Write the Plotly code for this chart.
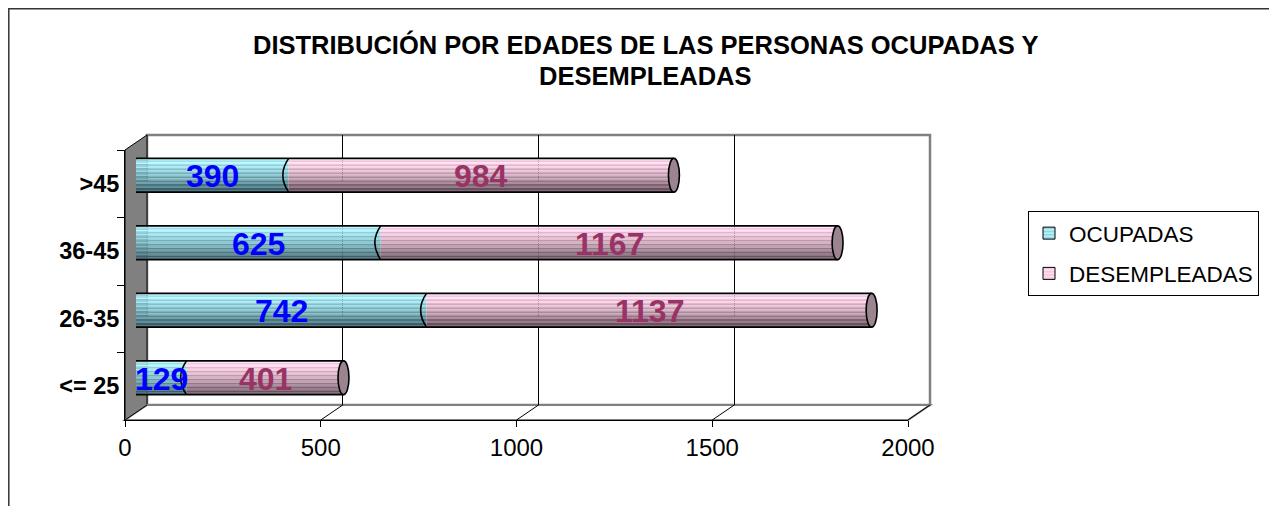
import plotly.graph_objects as go

# ---------------- data ----------------
categories = ["<= 25", "26-35", "36-45", ">45"]
ocupadas = [129, 742, 625, 390]
desempleadas = [401, 1137, 1167, 984]
series_names = ["OCUPADAS", "DESEMPLEADAS"]
x_ticks = [0, 500, 1000, 1500, 2000]
title_lines = ["DISTRIBUCIÓN POR EDADES DE LAS PERSONAS OCUPADAS Y", "DESEMPLEADAS"]

# ---------------- geometry ----------------
W, H = 1277, 506
XMAX = 2000
OFF = 8  # page body margin


def px(x):
    return (x - OFF) / W


def py(y):
    return (H - (y - OFF)) / H


FX0, FX1 = 125, 908          # front axis x (window pixels)
FY0, FY1 = 150, 420          # front axis y (top, bottom)
DX, DY = 22, -15             # depth offset of back wall
BX0 = 136                    # bar zero (mid depth)
BSY = -8.5                   # bar vertical shift (mid depth)
FONT = "Liberation Sans, Arial, sans-serif"


def front_px(v):
    return FX0 + (FX1 - FX0) * v / XMAX


ypos = list(range(len(categories)))
totals = [a + b for a, b in zip(ocupadas, desempleadas)]

fig = go.Figure()

# front axis dummy trace (subplot xy)
fig.add_trace(go.Scatter(x=[0] * len(categories), y=categories, mode="markers",
                         marker=dict(opacity=0), hoverinfo="skip", showlegend=False,
                         xaxis="x", yaxis="y"))
# back wall grid subplot (x2y2)
fig.add_trace(go.Scatter(x=[0], y=[0], mode="markers", marker=dict(opacity=0),
                         hoverinfo="skip", showlegend=False, xaxis="x2", yaxis="y2"))


def lerp(c1, c2, t):
    return tuple(c1[i] + (c2[i] - c1[i]) * t for i in range(3))


def grad(top, mid, bot, t):
    if t < 0.45:
        return lerp(top, mid, t / 0.45)
    return lerp(mid, bot, (t - 0.45) / 0.55)


def rgb(c, add=0):
    return "rgb(%d,%d,%d)" % tuple(max(0, min(255, int(round(v + add)))) for v in c)


palettes = [
    ((165, 235, 248), (112, 175, 186), (48, 82, 92)),
    ((255, 208, 232), (192, 152, 172), (88, 68, 80)),
]

N = 17
BW = 0.5
h = BW / 2
w = BW / N
series = [(ocupadas, [0] * len(ocupadas)), (desempleadas, ocupadas)]
for si, (vals, bases) in enumerate(series):
    top, mid, bot = palettes[si]
    for k in range(N):
        t = (k + 0.5) / N
        col = grad(top, mid, bot, t)
        add = 34 if k % 2 == 0 else 0
        fig.add_trace(go.Bar(
            y=ypos, x=vals, base=bases, orientation="h",
            width=w * 1.04, offset=h - (k + 1) * w,
            marker=dict(color=rgb(col, add), line=dict(width=0)),
            showlegend=False, hoverinfo="skip", xaxis="x3", yaxis="y3"))

# outline top/bottom edges
ox, oy = [], []
for i, tot in zip(ypos, totals):
    ox += [0, tot, None, 0, tot, None]
    oy += [i + h, i + h, None, i - h, i - h, None]
fig.add_trace(go.Scatter(x=ox, y=oy, mode="lines", line=dict(color="black", width=1.6),
                         hoverinfo="skip", showlegend=False, xaxis="x3", yaxis="y3"))

# legend entries
leg_colors = [("#b4f0f8", "#5fb0c0"), ("#ffe0ef", "#e8a8c8")]
for si, name in enumerate(series_names):
    fig.add_trace(go.Bar(
        x=[None], y=[None], name=name, orientation="h",
        marker=dict(color=leg_colors[si][0], line=dict(color="black", width=1),
                    pattern=dict(shape="-", fgcolor=leg_colors[si][1], bgcolor=leg_colors[si][0],
                                 size=4, solidity=0.4)),
        legendgroup=name, xaxis="x", yaxis="y"))

shapes = []
# outer border
shapes.append(dict(type="rect", xref="paper", yref="paper", x0=px(8.8), x1=px(1320),
                   y0=py(8.8), y1=py(560), line=dict(color="#333333", width=1.5),
                   fillcolor="rgba(0,0,0,0)", layer="below"))
# back wall
shapes.append(dict(type="rect", xref="paper", yref="paper", x0=px(FX0 + DX), x1=px(FX1 + DX),
                   y0=py(FY1 + DY), y1=py(FY0 + DY), line=dict(color="#808080", width=2.5),
                   fillcolor="white", layer="below"))
# left wall
shapes.append(dict(type="path", xref="paper", yref="paper",
                   path="M %f,%f L %f,%f L %f,%f L %f,%f Z" % (
                       px(FX0), py(FY0), px(FX0 + DX), py(FY0 + DY),
                       px(FX0 + DX), py(FY1 + DY), px(FX0), py(FY1)),
                   fillcolor="#808080", line=dict(color="black", width=1), layer="below"))
# floor
shapes.append(dict(type="path", xref="paper", yref="paper",
                   path="M %f,%f L %f,%f L %f,%f L %f,%f Z" % (
                       px(FX0), py(FY1), px(FX0 + DX), py(FY1 + DY),
                       px(FX1 + DX), py(FY1 + DY), px(FX1), py(FY1)),
                   fillcolor="white", line=dict(color="#808080", width=2), layer="below"))
for v in x_ticks:
    xf = front_px(v)
    shapes.append(dict(type="line", xref="paper", yref="paper", x0=px(xf), y0=py(FY1),
                       x1=px(xf + DX), y1=py(FY1 + DY), line=dict(color="black", width=1),
                       layer="below"))

# bar ends: left rounded end, series boundary arcs, right caps
for i, a, tot in zip(ypos, ocupadas, totals):
    shapes.append(dict(type="path", xref="x3", yref="y3",
                       path="M 0,%f Q -30,%f 0,%f Z" % (i + h, i, i - h),
                       fillcolor="rgb(112,175,186)", line=dict(width=0), layer="above"))
    shapes.append(dict(type="path", xref="x3", yref="y3",
                       path="M 0,%f Q -30,%f 0,%f" % (i + h, i, i - h),
                       line=dict(color="black", width=1.6), layer="above"))
    shapes.append(dict(type="path", xref="x3", yref="y3",
                       path="M %f,%f Q %f,%f %f,%f" % (a, i + h, a - 30, i, a, i - h),
                       line=dict(color="black", width=1.6), layer="above"))
    shapes.append(dict(type="circle", xref="x3", yref="y3", x0=tot - 14, x1=tot + 14,
                       y0=i - h, y1=i + h, fillcolor="#9a8490",
                       line=dict(color="black", width=1.6), layer="above"))

annotations = []
label_colors = ["#0000ff", "#993366"]
for si, (vals, bases) in enumerate(series):
    for i, v, b in zip(ypos, vals, bases):
        annotations.append(dict(x=b + v / 2, y=i, xref="x3", yref="y3", text=str(v),
                                showarrow=False, yshift=-1,
                                font=dict(family=FONT, size=32, color=label_colors[si],
                                          weight="bold")))
for li, (txt, yy) in enumerate(zip(title_lines, [44, 76])):
    annotations.append(dict(x=px(645), y=py(yy), xref="paper", yref="paper", text=txt,
                            showarrow=False, xanchor="center", yanchor="middle",
                            font=dict(family=FONT, size=25.5, color="black", weight="bold")))

fig.update_layout(
    width=W, height=H, autosize=False,
    margin=dict(l=0, r=0, t=0, b=0, pad=0, autoexpand=False),
    paper_bgcolor="white", plot_bgcolor="rgba(0,0,0,0)",
    barmode="overlay",
    shapes=shapes, annotations=annotations,
    showlegend=True,
    legend=dict(x=px(1028), y=py(211), xanchor="left", yanchor="top",
                bordercolor="black", borderwidth=1, bgcolor="white",
                font=dict(family=FONT, size=22.5, color="black"),
                traceorder="grouped", tracegroupgap=8, itemwidth=30),
    xaxis=dict(domain=[px(FX0), px(FX1)], range=[0, XMAX], anchor="y", automargin=False,
               tickvals=x_ticks, ticks="outside", ticklen=6, tickcolor="black",
               showline=True, linecolor="black", linewidth=1, showgrid=False, zeroline=False,
               tickfont=dict(family=FONT, size=24, color="black")),
    yaxis=dict(domain=[py(FY1), py(FY0)], type="category", categoryorder="array",
               categoryarray=categories, range=[-0.5, len(categories) - 0.5], anchor="x",
               automargin=False,
               ticks="outside", ticklen=7, tickcolor="black", tickson="boundaries",
               showline=True, linecolor="black", linewidth=1, showgrid=False, zeroline=False,
               tickfont=dict(family=FONT, size=23.5, color="black", weight="bold")),
    xaxis2=dict(domain=[px(FX0 + DX), px(FX1 + DX)], range=[0, XMAX], anchor="y2",
                automargin=False,
                tickvals=x_ticks[1:-1], showgrid=True, gridcolor="black", gridwidth=1,
                showticklabels=False, ticks="", showline=False, zeroline=False),
    yaxis2=dict(domain=[py(FY1 + DY), py(FY0 + DY)], range=[0, 1], anchor="x2",
                visible=False, automargin=False),
    xaxis3=dict(domain=[px(BX0), px(BX0 + FX1 - FX0)], range=[0, XMAX], anchor="y3",
                visible=False, automargin=False),
    yaxis3=dict(domain=[py(FY1 + BSY), py(FY0 + BSY)], range=[-0.5, len(categories) - 0.5],
                anchor="x3", visible=False, automargin=False),
)

fig.write_html("out.html")
